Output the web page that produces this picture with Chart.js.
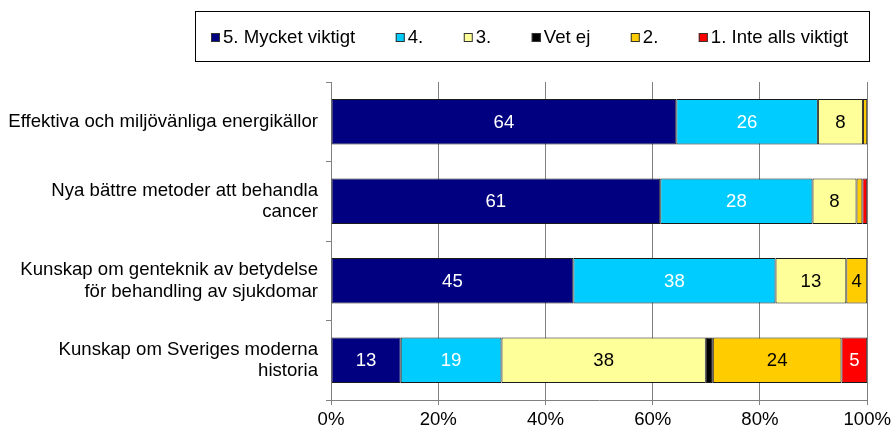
<!DOCTYPE html>
<html lang="sv">
<head>
<meta charset="UTF-8">
<title>Hur viktigt är det att forska om...</title>
<script src="https://cdn.jsdelivr.net/npm/chart.js"></script>
<style>
    html, body { margin: 0; padding: 0; background: #fff; }
    .chart-box { position: relative; width: 895px; height: 434px; }
</style>
</head>
<body>
<div class="chart-box"><canvas id="chart" width="895" height="434"></canvas></div>
<script>
// categories (top to bottom)
const categories = [
    ['Effektiva och miljövänliga energikällor'],
    ['Nya bättre metoder att behandla', 'cancer'],
    ['Kunskap om genteknik av betydelse', 'för behandling av sjukdomar'],
    ['Kunskap om Sveriges moderna', 'historia']
];
const seriesNames = ['5. Mycket viktigt', '4.', '3.', 'Vet ej', '2.', '1. Inte alls viktigt'];

// percent per category
const mycketViktigt = [64.4, 61.4, 45.2, 13.0];
const fyra = [26.4, 28.4, 37.7, 18.8];
const tre = [8.4, 8.2, 13.2, 38.1];
const vetEj = [0, 0, 0, 1.3];
const tva = [0.8, 1.1, 3.9, 24.0];
const inteAlls = [0, 0.9, 0, 4.8];

const xTickLabels = ['0%', '20%', '40%', '60%', '80%', '100%'];

const FONT_SIZE = 18.6;
const FONT = FONT_SIZE + 'px "Liberation Sans", Arial, sans-serif';
const GRID = '#808080';

// values below this get no number in the bar
const labelMin = 3;

const segmentLabels = {
    id: 'segmentLabels',
    afterDatasetsDraw(chart) {
        const ctx = chart.ctx;
        ctx.save();
        ctx.font = FONT;
        ctx.textAlign = 'center';
        ctx.textBaseline = 'middle';
        chart.data.datasets.forEach((ds, i) => {
            const meta = chart.getDatasetMeta(i);
            meta.data.forEach((bar, j) => {
                const v = ds.data[j];
                if (v < labelMin) return;
                const p = bar.getProps(['x', 'y', 'base'], true);
                ctx.fillStyle = ds.labelColor;
                ctx.fillText(Math.round(v), (p.x + p.base) / 2, p.y + 1);
            });
        });
        ctx.restore();
    }
};

// Excel style legend with a frame round it
const boxedLegend = {
    id: 'boxedLegend',
    afterDraw(chart) {
        const ctx = chart.ctx;
        ctx.save();
        ctx.font = FONT;
        ctx.textBaseline = 'middle';
        ctx.lineWidth = 1;
        ctx.strokeStyle = '#000';
        ctx.strokeRect(195.5, 11.5, 674, 50);
        let x = 211;
        chart.data.datasets.forEach(ds => {
            ctx.fillStyle = ds.backgroundColor;
            ctx.fillRect(x, 33, 9, 9);
            ctx.strokeStyle = '#333';
            ctx.strokeRect(x + 0.5, 33.5, 8, 8);
            ctx.fillStyle = '#000';
            ctx.fillText(ds.label, x + 12, 38);
            x += 12 + ctx.measureText(ds.label).width + 40.5;
        });
        ctx.restore();
    }
};

function makeSet(i, data, color, labelColor) {
    return {
        label: seriesNames[i],
        data: data,
        backgroundColor: color,
        borderColor: '#1a1a1a',
        borderWidth: 1,
        borderSkipped: false,
        labelColor: labelColor,
        barPercentage: 0.57,
        categoryPercentage: 1.0
    };
}

Chart.defaults.font.family = '"Liberation Sans", Arial, sans-serif';
Chart.defaults.font.size = FONT_SIZE;
Chart.defaults.color = '#000';

new Chart(document.getElementById('chart'), {
    type: 'bar',
    data: {
        labels: categories,
        datasets: [
            makeSet(0, mycketViktigt, '#000080', '#fff'),
            makeSet(1, fyra, '#00CCFF', '#fff'),
            makeSet(2, tre, '#FFFF99', '#000'),
            makeSet(3, vetEj, '#000000', '#fff'),
            makeSet(4, tva, '#FFCC00', '#000'),
            makeSet(5, inteAlls, '#FF0000', '#fff')
        ]
    },
    options: {
        indexAxis: 'y',
        responsive: false,
        animation: false,
        layout: { padding: { top: 82, right: 26, bottom: 0, left: 0 } },
        plugins: {
            legend: { display: false },
            tooltip: { enabled: false }
        },
        scales: {
            x: {
                stacked: true,
                min: 0,
                max: 100,
                ticks: {
                    stepSize: 20,
                    padding: 4,
                    maxRotation: 0,
                    callback: (v, i) => xTickLabels[i]
                },
                grid: { color: GRID, tickColor: GRID, tickLength: 5, lineWidth: 1 },
                border: { color: GRID },
                afterFit: s => { s.height = 34; }
            },
            y: {
                stacked: true,
                ticks: { padding: 8, font: { lineHeight: 1.15 } },
                grid: { drawOnChartArea: false, color: GRID, tickColor: GRID, tickLength: 5 },
                border: { color: GRID },
                afterFit: s => { s.width = 331; }
            }
        }
    },
    plugins: [segmentLabels, boxedLegend]
});
</script>
</body>
</html>
